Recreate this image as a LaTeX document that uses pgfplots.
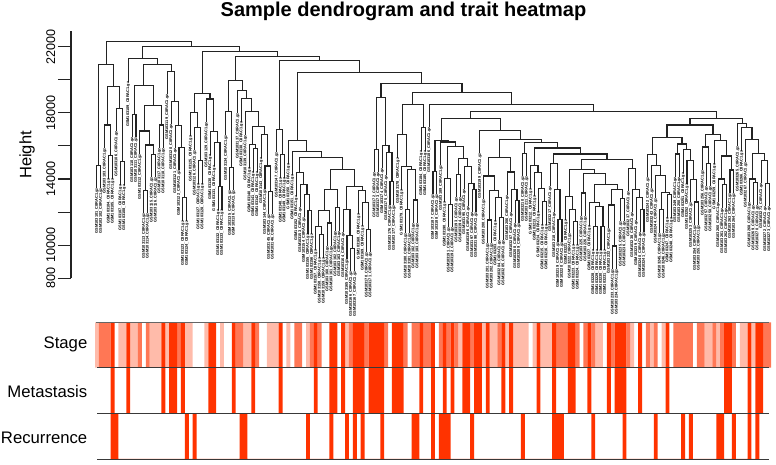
\documentclass[border=0pt]{standalone}
\usepackage{fontspec}
\setmainfont{Liberation Sans}
\usepackage{pgfplots}
\usepackage{pgfplotstable}
\pgfplotsset{compat=1.18}
\definecolor{lev1}{RGB}{255,187,170}
\definecolor{lev2}{RGB}{255,119,85}
\definecolor{lev3}{RGB}{255,51,0}
\definecolor{ink}{RGB}{35,35,35}

% leaves of the tree: position, hanging end, sample number
\pgfplotstableread{
x y id
0.5 13450 101
1.5 13450 102
2.5 15870 103
3.5 14020 104
4.5 14020 105
5.5 16880 106
6.5 13650 107
7.5 13650 108
8.5 19880 109
9.5 16520 110
10.5 16520 111
11.5 15510 112
12.5 11940 113
13.5 11940 114
14.5 14100 115
15.5 14100 116
16.5 15870 117
17.5 15870 118
18.5 19110 119
19.5 17300 120
20.5 15850 121
21.5 14520 122
22.5 11480 123
23.5 11480 124
24.5 16610 125
25.5 15730 126
26.5 13710 127
27.5 13710 128
28.5 17440 129
29.5 15470 130
30.5 14800 131
31.5 12140 132
32.5 12140 133
33.5 16660 134
34.5 13310 135
35.5 13310 136
36.5 17970 137
37.5 17460 138
38.5 16660 139
39.5 14680 140
40.5 14440 141
41.5 14440 142
42.5 15280 143
43.5 13390 144
44.5 11870 145
45.5 11870 146
46.5 15610 147
47.5 14080 148
48.5 14080 149
49.5 14920 150
50.5 14260 151
51.5 12990 152
52.5 12290 153
53.5 11680 154
54.5 10690 155
55.5 10690 156
56.5 9730 157
57.5 9240 158
58.5 9240 159
59.5 9950 160
60.5 9950 161
61.5 10860 162
62.5 10860 163
63.5 10780 164
64.5 9170 165
65.5 8420 166
66.5 8420 167
67.5 11900 168
68.5 11180 169
69.5 9570 170
70.5 9570 171
71.5 14400 172
72.5 14400 173
73.5 14640 174
74.5 14220 175
75.5 12430 176
76.5 12430 177
77.5 15280 178
78.5 13350 179
79.5 10740 180
80.5 10740 181
81.5 11340 182
82.5 11340 183
83.5 15710 184
84.5 15710 185
85.5 17120 186
86.5 13070 187
87.5 13070 188
88.5 14840 189
89.5 12630 190
90.5 11080 191
91.5 11080 192
92.5 12890 193
93.5 12890 194
94.5 13380 195
95.5 12350 196
96.5 11990 197
97.5 11990 198
98.5 15550 199
99.5 12790 200
100.5 10130 201
101.5 10130 202
102.5 11480 203
103.5 10300 204
104.5 10300 205
105.5 13030 206
106.5 11990 207
107.5 11320 208
108.5 11320 209
109.5 14160 210
110.5 14160 211
111.5 13410 212
112.5 12990 213
113.5 12020 214
114.5 11240 215
115.5 11240 216
116.5 13560 217
117.5 12000 218
118.5 10170 219
119.5 10170 220
120.5 11540 221
121.5 10740 222
122.5 10030 223
123.5 10030 224
124.5 11760 225
125.5 11760 226
126.5 11180 227
127.5 9730 228
128.5 9730 229
129.5 9730 230
130.5 9730 231
131.5 11040 232
132.5 8560 233
133.5 8560 234
134.5 11440 235
135.5 11440 236
136.5 13260 237
137.5 11990 238
138.5 11500 239
139.5 10780 240
140.5 10780 241
141.5 14100 242
142.5 13440 243
143.5 12830 244
144.5 10740 245
145.5 10740 246
146.5 11660 247
147.5 11660 248
148.5 14120 249
149.5 14120 250
150.5 14380 251
151.5 13710 252
152.5 12590 253
153.5 11220 254
154.5 11220 255
155.5 14540 256
156.5 13560 257
157.5 13560 258
158.5 14920 259
159.5 12610 260
160.5 12250 261
161.5 12250 262
162.5 13150 263
163.5 13150 264
164.5 15970 265
165.5 15710 266
166.5 15010 267
167.5 12610 268
168.5 12410 269
169.5 12410 270
170.5 13740 271
171.5 12350 272
172.5 12350 273
}\leaves

\begin{document}
\begin{tikzpicture}[x=1pt,y=1pt]
\path[use as bounding box] (0,0) rectangle (776,465);

% dendrogram
\begin{axis}[
    at={(71pt,186.7pt)}, anchor=south west,
    scale only axis, width=700pt, height=247.6pt,
    xmin=-6.14, xmax=173, ymin=8000, ymax=22956,
    clip=false,
    axis x line=none, axis y line=left,
    axis line style={-,draw=ink,line width=1.1pt},
    scaled y ticks=false,
    ytick={8000,10000,12000,14000,16000,18000,20000,22000},
    yticklabels={800,10000,,14000,,18000,,22000},
    tick align=outside, major tick length=13pt,
    ytick style={draw=ink,line width=1.1pt},
    yticklabel style={rotate=90,anchor=south,font=\fontsize{12.6}{13}\selectfont,inner sep=2.5pt},
    /pgf/number format/assume math mode=true,
    unbounded coords=jump,
]
\addplot[draw=ink,line width=1.1pt,mark=none] coordinates {
(0.5,13450)(0.5,14840)(1.5,14840)(1.5,13450)(nan,nan)
(3.5,14020)(3.5,15410)(4.5,15410)(4.5,14020)(nan,nan)
(2.5,15870)(2.5,17260)(4,17260)(4,15410)(nan,nan)
(6.5,13650)(6.5,15040)(7.5,15040)(7.5,13650)(nan,nan)
(5.5,16880)(5.5,18270)(7,18270)(7,15040)(nan,nan)
(3.25,17260)(3.25,19600)(6.25,19600)(6.25,18270)(nan,nan)
(1,14840)(1,20900)(4.75,20900)(4.75,19600)(nan,nan)
(9.5,16520)(9.5,17910)(10.5,17910)(10.5,16520)(nan,nan)
(12.5,11940)(12.5,13330)(13.5,13330)(13.5,11940)(nan,nan)
(14.5,14100)(14.5,15490)(15.5,15490)(15.5,14100)(nan,nan)
(13,13330)(13,16050)(15,16050)(15,15490)(nan,nan)
(11.5,15510)(11.5,16900)(14,16900)(14,16050)(nan,nan)
(16.5,15870)(16.5,17260)(17.5,17260)(17.5,15870)(nan,nan)
(12.75,16900)(12.75,18430)(17,18430)(17,17260)(nan,nan)
(10,17910)(10,19660)(14.875,19660)(14.875,18430)(nan,nan)
(22.5,11480)(22.5,12870)(23.5,12870)(23.5,11480)(nan,nan)
(21.5,14520)(21.5,15910)(23,15910)(23,12870)(nan,nan)
(20.5,15850)(20.5,17240)(22.25,17240)(22.25,15910)(nan,nan)
(19.5,17300)(19.5,18690)(21.375,18690)(21.375,17240)(nan,nan)
(18.5,19110)(18.5,20500)(20.44,20500)(20.44,18690)(nan,nan)
(12.44,19660)(12.44,20900)(19.47,20900)(19.47,20500)(nan,nan)
(8.5,19880)(8.5,21270)(15.95,21270)(15.95,20900)(nan,nan)
(26.5,13710)(26.5,15100)(27.5,15100)(27.5,13710)(nan,nan)
(25.5,15730)(25.5,17120)(27,17120)(27,15100)(nan,nan)
(24.5,16610)(24.5,18000)(26.25,18000)(26.25,17120)(nan,nan)
(31.5,12140)(31.5,13530)(32.5,13530)(32.5,12140)(nan,nan)
(30.5,14800)(30.5,16190)(32,16190)(32,13530)(nan,nan)
(29.5,15470)(29.5,16860)(31.25,16860)(31.25,16190)(nan,nan)
(28.5,17440)(28.5,18830)(30.375,18830)(30.375,16860)(nan,nan)
(25.375,18000)(25.375,19180)(29.44,19180)(29.44,18830)(nan,nan)
(34.5,13310)(34.5,14700)(35.5,14700)(35.5,13310)(nan,nan)
(33.5,16660)(33.5,18050)(35,18050)(35,14700)(nan,nan)
(40.5,14440)(40.5,15830)(41.5,15830)(41.5,14440)(nan,nan)
(39.5,14680)(39.5,16070)(41,16070)(41,15830)(nan,nan)
(44.5,11870)(44.5,13260)(45.5,13260)(45.5,11870)(nan,nan)
(43.5,13390)(43.5,14780)(45,14780)(45,13260)(nan,nan)
(42.5,15280)(42.5,16670)(44.25,16670)(44.25,14780)(nan,nan)
(40.25,16070)(40.25,17160)(43.375,17160)(43.375,16670)(nan,nan)
(38.5,16660)(38.5,18050)(41.81,18050)(41.81,17160)(nan,nan)
(37.5,17460)(37.5,18850)(40.16,18850)(40.16,18050)(nan,nan)
(36.5,17970)(36.5,19360)(38.83,19360)(38.83,18850)(nan,nan)
(34.25,18050)(34.25,19940)(37.66,19940)(37.66,19360)(nan,nan)
(47.5,14080)(47.5,15470)(48.5,15470)(48.5,14080)(nan,nan)
(46.5,15610)(46.5,17000)(48,17000)(48,15470)(nan,nan)
(54.5,10690)(54.5,12080)(55.5,12080)(55.5,10690)(nan,nan)
(53.5,11680)(53.5,13070)(55,13070)(55,12080)(nan,nan)
(52.5,12290)(52.5,13680)(54.25,13680)(54.25,13070)(nan,nan)
(51.5,12990)(51.5,14380)(53.375,14380)(53.375,13680)(nan,nan)
(57.5,9240)(57.5,10630)(58.5,10630)(58.5,9240)(nan,nan)
(56.5,9730)(56.5,11120)(58,11120)(58,10630)(nan,nan)
(59.5,9950)(59.5,11340)(60.5,11340)(60.5,9950)(nan,nan)
(57.25,11120)(57.25,12110)(60,12110)(60,11340)(nan,nan)
(61.5,10860)(61.5,12250)(62.5,12250)(62.5,10860)(nan,nan)
(58.625,12110)(58.625,13390)(62,13390)(62,12250)(nan,nan)
(65.5,8420)(65.5,9810)(66.5,9810)(66.5,8420)(nan,nan)
(64.5,9170)(64.5,10560)(66,10560)(66,9810)(nan,nan)
(63.5,10780)(63.5,12170)(65.25,12170)(65.25,10560)(nan,nan)
(69.5,9570)(69.5,10960)(70.5,10960)(70.5,9570)(nan,nan)
(68.5,11180)(68.5,12570)(70,12570)(70,10960)(nan,nan)
(67.5,11900)(67.5,13290)(69.25,13290)(69.25,12570)(nan,nan)
(64.375,12170)(64.375,13520)(68.375,13520)(68.375,13290)(nan,nan)
(60.31,13390)(60.31,14560)(66.375,14560)(66.375,13520)(nan,nan)
(52.44,14380)(52.44,15310)(63.34,15310)(63.34,14560)(nan,nan)
(50.5,14260)(50.5,15650)(57.89,15650)(57.89,15310)(nan,nan)
(49.5,14920)(49.5,16310)(54.2,16310)(54.2,15650)(nan,nan)
(71.5,14400)(71.5,15790)(72.5,15790)(72.5,14400)(nan,nan)
(75.5,12430)(75.5,13820)(76.5,13820)(76.5,12430)(nan,nan)
(74.5,14220)(74.5,15610)(76,15610)(76,13820)(nan,nan)
(73.5,14640)(73.5,16030)(75.25,16030)(75.25,15610)(nan,nan)
(72,15790)(72,18930)(74.375,18930)(74.375,16030)(nan,nan)
(79.5,10740)(79.5,12130)(80.5,12130)(80.5,10740)(nan,nan)
(81.5,11340)(81.5,12730)(82.5,12730)(82.5,11340)(nan,nan)
(80,12130)(80,14580)(82,14580)(82,12730)(nan,nan)
(78.5,13350)(78.5,14740)(81,14740)(81,14580)(nan,nan)
(77.5,15280)(77.5,16670)(79.75,16670)(79.75,14740)(nan,nan)
(83.5,15710)(83.5,17100)(84.5,17100)(84.5,15710)(nan,nan)
(78.625,16670)(78.625,18510)(84,18510)(84,17100)(nan,nan)
(86.5,13070)(86.5,14460)(87.5,14460)(87.5,13070)(nan,nan)
(90.5,11080)(90.5,12470)(91.5,12470)(91.5,11080)(nan,nan)
(89.5,12630)(89.5,14020)(91,14020)(91,12470)(nan,nan)
(92.5,12890)(92.5,14280)(93.5,14280)(93.5,12890)(nan,nan)
(96.5,11990)(96.5,13380)(97.5,13380)(97.5,11990)(nan,nan)
(95.5,12350)(95.5,13740)(97,13740)(97,13380)(nan,nan)
(94.5,13380)(94.5,14770)(96.25,14770)(96.25,13740)(nan,nan)
(93,14280)(93,15230)(95.375,15230)(95.375,14770)(nan,nan)
(90.25,14020)(90.25,15950)(94.19,15950)(94.19,15230)(nan,nan)
(88.5,14840)(88.5,16230)(92.22,16230)(92.22,15950)(nan,nan)
(87,14460)(87,16350)(90.36,16350)(90.36,16230)(nan,nan)
(100.5,10130)(100.5,11520)(101.5,11520)(101.5,10130)(nan,nan)
(103.5,10300)(103.5,11690)(104.5,11690)(104.5,10300)(nan,nan)
(102.5,11480)(102.5,12870)(104,12870)(104,11690)(nan,nan)
(101,11520)(101,13290)(103.25,13290)(103.25,12870)(nan,nan)
(99.5,12790)(99.5,14180)(102.125,14180)(102.125,13290)(nan,nan)
(107.5,11320)(107.5,12710)(108.5,12710)(108.5,11320)(nan,nan)
(106.5,11990)(106.5,13380)(108,13380)(108,12710)(nan,nan)
(105.5,13030)(105.5,14420)(107.25,14420)(107.25,13380)(nan,nan)
(100.81,14180)(100.81,15310)(106.375,15310)(106.375,14420)(nan,nan)
(109.5,14160)(109.5,15550)(110.5,15550)(110.5,14160)(nan,nan)
(114.5,11240)(114.5,12630)(115.5,12630)(115.5,11240)(nan,nan)
(113.5,12020)(113.5,13410)(115,13410)(115,12630)(nan,nan)
(112.5,12990)(112.5,14380)(114.25,14380)(114.25,13410)(nan,nan)
(111.5,13410)(111.5,14800)(113.375,14800)(113.375,14380)(nan,nan)
(118.5,10170)(118.5,11560)(119.5,11560)(119.5,10170)(nan,nan)
(117.5,12000)(117.5,13390)(119,13390)(119,11560)(nan,nan)
(116.5,13560)(116.5,14950)(118.25,14950)(118.25,13390)(nan,nan)
(122.5,10030)(122.5,11420)(123.5,11420)(123.5,10030)(nan,nan)
(121.5,10740)(121.5,12130)(123,12130)(123,11420)(nan,nan)
(120.5,11540)(120.5,12930)(122.25,12930)(122.25,12130)(nan,nan)
(124.5,11760)(124.5,13150)(125.5,13150)(125.5,11760)(nan,nan)
(127.5,9730)(127.5,11120)(128.5,11120)(128.5,9730)(nan,nan)
(129.5,9730)(129.5,11120)(130.5,11120)(130.5,9730)(nan,nan)
(128,11120)(128,12350)(130,12350)(130,11120)(nan,nan)
(126.5,11180)(126.5,12570)(129,12570)(129,12350)(nan,nan)
(132.5,8560)(132.5,9950)(133.5,9950)(133.5,8560)(nan,nan)
(131.5,11040)(131.5,12430)(133,12430)(133,9950)(nan,nan)
(134.5,11440)(134.5,12830)(135.5,12830)(135.5,11440)(nan,nan)
(132.25,12430)(132.25,13390)(135,13390)(135,12830)(nan,nan)
(127.75,12570)(127.75,13650)(133.625,13650)(133.625,13390)(nan,nan)
(125,13150)(125,14320)(130.69,14320)(130.69,13650)(nan,nan)
(121.375,12930)(121.375,14560)(127.84,14560)(127.84,14320)(nan,nan)
(139.5,10780)(139.5,12170)(140.5,12170)(140.5,10780)(nan,nan)
(138.5,11500)(138.5,12890)(140,12890)(140,12170)(nan,nan)
(137.5,11990)(137.5,13380)(139.25,13380)(139.25,12890)(nan,nan)
(136.5,13260)(136.5,14650)(138.375,14650)(138.375,13380)(nan,nan)
(124.61,14560)(124.61,15190)(137.44,15190)(137.44,14650)(nan,nan)
(117.375,14950)(117.375,15510)(131.03,15510)(131.03,15190)(nan,nan)
(112.44,14800)(112.44,15870)(124.2,15870)(124.2,15510)(nan,nan)
(110,15550)(110,16220)(118.32,16220)(118.32,15870)(nan,nan)
(103.6,15310)(103.6,16410)(114.16,16410)(114.16,16220)(nan,nan)
(98.5,15550)(98.5,16940)(108.88,16940)(108.88,16410)(nan,nan)
(88.68,16350)(88.68,17640)(103.69,17640)(103.69,16940)(nan,nan)
(144.5,10740)(144.5,12130)(145.5,12130)(145.5,10740)(nan,nan)
(146.5,11660)(146.5,13050)(147.5,13050)(147.5,11660)(nan,nan)
(145,12130)(145,13170)(147,13170)(147,13050)(nan,nan)
(143.5,12830)(143.5,14220)(146,14220)(146,13170)(nan,nan)
(142.5,13440)(142.5,14830)(144.75,14830)(144.75,14220)(nan,nan)
(141.5,14100)(141.5,15490)(143.63,15490)(143.63,14830)(nan,nan)
(148.5,14120)(148.5,15510)(149.5,15510)(149.5,14120)(nan,nan)
(153.5,11220)(153.5,12610)(154.5,12610)(154.5,11220)(nan,nan)
(152.5,12590)(152.5,13980)(154,13980)(154,12610)(nan,nan)
(151.5,13710)(151.5,15100)(153.25,15100)(153.25,13980)(nan,nan)
(150.5,14380)(150.5,15770)(152.375,15770)(152.375,15100)(nan,nan)
(149,15510)(149,16110)(151.44,16110)(151.44,15770)(nan,nan)
(142.56,15490)(142.56,16520)(150.22,16520)(150.22,16110)(nan,nan)
(156.5,13560)(156.5,14950)(157.5,14950)(157.5,13560)(nan,nan)
(155.5,14540)(155.5,15930)(157,15930)(157,14950)(nan,nan)
(160.5,12250)(160.5,13640)(161.5,13640)(161.5,12250)(nan,nan)
(159.5,12610)(159.5,14000)(161,14000)(161,13640)(nan,nan)
(162.5,13150)(162.5,14540)(163.5,14540)(163.5,13150)(nan,nan)
(160.25,14000)(160.25,15390)(163,15390)(163,14540)(nan,nan)
(158.5,14920)(158.5,16310)(161.63,16310)(161.63,15390)(nan,nan)
(156.25,15930)(156.25,16670)(160.06,16670)(160.06,16310)(nan,nan)
(146.39,16520)(146.39,17260)(158.16,17260)(158.16,16670)(nan,nan)
(168.5,12410)(168.5,13800)(169.5,13800)(169.5,12410)(nan,nan)
(167.5,12610)(167.5,14000)(169,14000)(169,13800)(nan,nan)
(171.5,12350)(171.5,13740)(172.5,13740)(172.5,12350)(nan,nan)
(170.5,13740)(170.5,15130)(172,15130)(172,13740)(nan,nan)
(168.25,14000)(168.25,15530)(171.25,15530)(171.25,15130)(nan,nan)
(166.5,15010)(166.5,16400)(169.75,16400)(169.75,15530)(nan,nan)
(165.5,15710)(165.5,17100)(168.13,17100)(168.13,16400)(nan,nan)
(164.5,15970)(164.5,17360)(166.81,17360)(166.81,17100)(nan,nan)
(152.27,17260)(152.27,17670)(165.66,17670)(165.66,17360)(nan,nan)
(96.19,17640)(96.19,18050)(158.96,18050)(158.96,17670)(nan,nan)
(85.5,17120)(85.5,18510)(127.58,18510)(127.58,18050)(nan,nan)
(81.31,18510)(81.31,19240)(106.54,19240)(106.54,18510)(nan,nan)
(73.19,18930)(73.19,19760)(93.93,19760)(93.93,19240)(nan,nan)
(51.85,16310)(51.85,20440)(83.56,20440)(83.56,19760)(nan,nan)
(47.25,17000)(47.25,21170)(67.7,21170)(67.7,20440)(nan,nan)
(35.96,19940)(35.96,21370)(57.48,21370)(57.48,21170)(nan,nan)
(27.4,19180)(27.4,21690)(46.72,21690)(46.72,21370)(nan,nan)
(12.2,21270)(12.2,22010)(37.06,22010)(37.06,21690)(nan,nan)
(2.875,20900)(2.875,22290)(24.63,22290)(24.63,22010)(nan,nan)
};
\addplot[only marks,mark=none,point meta=explicit symbolic,
    nodes near coords={GSM103\pgfplotspointmeta\_C8RAC1.gz},
    every node near coord/.style={rotate=90,anchor=east,inner sep=0pt,
      text=black,font=\bfseries\fontsize{3.9}{3.9}\selectfont}]
    table[x=x,y=y,meta=id] {\leaves};
\end{axis}

% Stage strip
\begin{axis}[
    at={(95pt,97.3pt)}, anchor=south west,
    scale only axis, width=676pt, height=45.4pt,
    xmin=0, xmax=173, ymin=0, ymax=1, hide axis,
]
\addplot[ybar interval,fill=lev1,draw=none] coordinates {
(0,1)(1,0)(6,1)(8,0)(9,1)(11,0)(14,1)(17,0)(18,1)(19,0)(23,1)(25,0)(28,1)(29,0)(32,1)(33,0)(38,1)(40,0)(44,1)(47,0)(49,1)(50,0)(54,1)(55,0)(64,1)(65,0)(93,1)(94,0)(99,1)(100,0)(101,1)(103,0)(105,1)(106,0)(107,1)(111,0)(112,1)(113,0)(114,1)(117,0)(128,1)(130,0)(137,1)(138,0)(142,1)(143,0)(145,1)(146,0)(156,1)(158,0)(159,1)(160,0)(165,1)(167,0)(168,1)(169,0)};
\addplot[ybar interval,fill=lev2,draw=none] coordinates {
(1,1)(4,0)(11,1)(12,0)(13,1)(14,0)(21,1)(22,0)(36,1)(38,0)(41,1)(42,0)(51,1)(53,0)(55,1)(56,0)(57,1)(58,0)(65,1)(66,0)(69,1)(70,0)(74,1)(75,0)(79,1)(80,0)(81,1)(83,0)(84,1)(86,0)(88,1)(89,0)(90,1)(91,0)(92,1)(93,0)(96,1)(97,0)(103,1)(104,0)(118,1)(121,0)(123,1)(124,0)(125,1)(126,0)(127,1)(128,0)(132,1)(133,0)(136,1)(137,0)(141,1)(142,0)(143,1)(144,0)(148,1)(153,0)(154,1)(156,0)(158,1)(159,0)(160,1)(161,0)(163,1)(164,0)(171,1)(173,0)};
\addplot[ybar interval,fill=lev3,draw=none] coordinates {
(4,1)(5,0)(8,1)(9,0)(17,1)(18,0)(19,1)(21,0)(22,1)(23,0)(29,1)(31,0)(35,1)(36,0)(40,1)(41,0)(47,1)(48,0)(56,1)(57,0)(60,1)(62,0)(63,1)(64,0)(66,1)(69,0)(70,1)(74,0)(76,1)(79,0)(83,1)(84,0)(86,1)(87,0)(89,1)(90,0)(91,1)(92,0)(94,1)(96,0)(97,1)(99,0)(100,1)(101,0)(104,1)(105,0)(106,1)(107,0)(113,1)(114,0)(117,1)(118,0)(121,1)(123,0)(126,1)(127,0)(131,1)(132,0)(133,1)(136,0)(139,1)(140,0)(146,1)(147,0)(161,1)(163,0)(167,1)(168,0)(169,1)(171,0)};
\end{axis}

% Metastasis strip
\begin{axis}[
    at={(95pt,51.7pt)}, anchor=south west,
    scale only axis, width=676pt, height=45.6pt,
    xmin=0, xmax=173, ymin=0, ymax=1, hide axis,
]
\addplot[ybar interval,fill=lev3,draw=none] coordinates {
(4,1)(5,0)(8,1)(9,0)(17,1)(18,0)(19,1)(21,0)(22,1)(23,0)(29,1)(31,0)(35,1)(36,0)(40,1)(41,0)(47,1)(48,0)(56,1)(57,0)(60,1)(62,0)(63,1)(64,0)(66,1)(69,0)(70,1)(74,0)(76,1)(79,0)(83,1)(84,0)(86,1)(87,0)(89,1)(90,0)(91,1)(92,0)(94,1)(96,0)(97,1)(99,0)(100,1)(101,0)(104,1)(105,0)(106,1)(107,0)(113,1)(114,0)(117,1)(118,0)(121,1)(123,0)(126,1)(127,0)(131,1)(132,0)(133,1)(136,0)(139,1)(140,0)(146,1)(147,0)(161,1)(163,0)(167,1)(168,0)(169,1)(171,0)};
\end{axis}

% Recurrence strip
\begin{axis}[
    at={(95pt,6pt)}, anchor=south west,
    scale only axis, width=676pt, height=45.7pt,
    xmin=0, xmax=173, ymin=0, ymax=1, hide axis,
]
\addplot[ybar interval,fill=lev3,draw=none] coordinates {
(4,1)(6,0)(23,1)(24,0)(25,1)(26,0)(37,1)(39,0)(54,1)(55,0)(60,1)(61,0)(64,1)(65,0)(66,1)(67,0)(68,1)(69,0)(73,1)(74,0)(81,1)(83,0)(86,1)(87,0)(88,1)(91,0)(96,1)(97,0)(109,1)(110,0)(117,1)(120,0)(127,1)(128,0)(135,1)(136,0)(143,1)(144,0)(150,1)(151,0)(152,1)(153,0)(159,1)(161,0)(163,1)(164,0)(167,1)(168,0)(169,1)(170,0)};
\end{axis}

% strip rules
\draw[ink!70,line width=0.8pt] (96,142.7) -- (769,142.7);
\draw[ink!90,line width=0.8pt] (97,97.3) -- (769,97.3);
\draw[ink!90,line width=0.8pt] (97,51.7) -- (769,51.7);
\draw[ink!90,line width=0.8pt] (97,6) -- (769,6);

% texts
\node[font=\bfseries\fontsize{20}{22}\selectfont,text=black] at (403.5,454) {Sample dendrogram and trait heatmap};
\node[rotate=90,font=\fontsize{16.5}{18}\selectfont] at (27,310) {Height};
\node[anchor=east,inner sep=0pt,font=\fontsize{16.7}{18}\selectfont] at (87.5,121) {Stage};
\node[anchor=east,inner sep=0pt,font=\fontsize{16.7}{18}\selectfont] at (87.5,73) {Metastasis};
\node[anchor=east,inner sep=0pt,font=\fontsize{16.7}{18}\selectfont] at (87.5,27.3) {Recurrence};
\end{tikzpicture}
\end{document}
